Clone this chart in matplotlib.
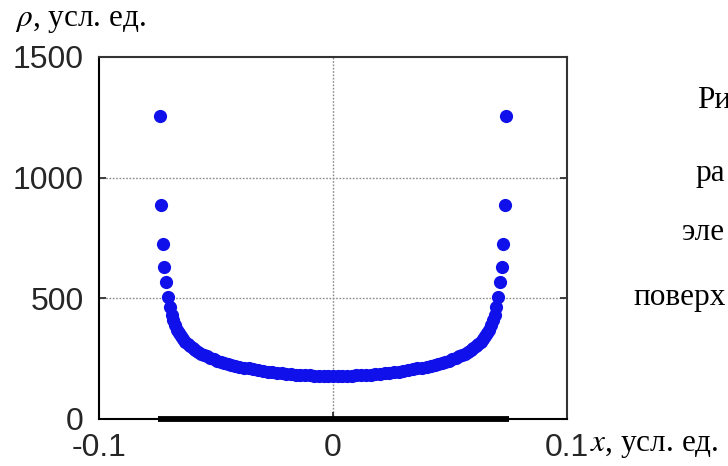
import matplotlib
matplotlib.use("Agg")
import matplotlib.pyplot as plt

plt.rcParams['mathtext.fontset'] = 'stix'

# charge density along the strip, left half and right half
x_left = [-0.0740, -0.0734, -0.0728, -0.0721, -0.0714, -0.0706, -0.0698, -0.0690,
          -0.0682, -0.0674, -0.0666, -0.0658, -0.0650, -0.0641, -0.0631, -0.0621,
          -0.0611, -0.0600, -0.0588, -0.0576, -0.0564, -0.0552, -0.0540, -0.0525,
          -0.0510, -0.0495, -0.0480, -0.0465, -0.0450, -0.0435, -0.0420, -0.0400,
          -0.0380, -0.0360, -0.0340, -0.0320, -0.0300, -0.0280, -0.0260, -0.0240,
          -0.0220, -0.0200, -0.0180, -0.0160, -0.0140, -0.0120, -0.0100, -0.0080,
          -0.0060, -0.0040, -0.0020]
rho_left = [1255, 887, 725, 630, 568, 505, 462, 432,
            408, 388, 370, 355, 342, 331, 320, 310,
            301, 293, 285, 278, 271, 265, 259, 253,
            247, 242, 237, 233, 229, 225, 221, 217,
            213, 209, 205, 202, 199, 196, 193, 191,
            189, 187, 185, 183, 182, 181, 180, 179,
            178, 178, 177]

x_right = [0.0000, 0.0020, 0.0040, 0.0060, 0.0080, 0.0100, 0.0120, 0.0140,
           0.0160, 0.0180, 0.0200, 0.0220, 0.0240, 0.0260, 0.0280, 0.0300,
           0.0320, 0.0340, 0.0360, 0.0380, 0.0400, 0.0420, 0.0435, 0.0450,
           0.0465, 0.0480, 0.0495, 0.0510, 0.0525, 0.0540, 0.0552, 0.0564,
           0.0576, 0.0588, 0.0600, 0.0611, 0.0621, 0.0631, 0.0641, 0.0650,
           0.0658, 0.0666, 0.0674, 0.0682, 0.0690, 0.0698, 0.0706, 0.0714,
           0.0721, 0.0728, 0.0734, 0.0740]
rho_right = [177, 177, 178, 178, 179, 180, 181, 182,
             183, 185, 187, 189, 191, 193, 196, 199,
             202, 205, 209, 213, 217, 221, 225, 229,
             233, 237, 242, 247, 253, 259, 265, 271,
             278, 285, 293, 301, 310, 320, 331, 342,
             355, 370, 388, 408, 432, 462, 505, 568,
             630, 725, 887, 1255]

# the strip itself, drawn on the axis
strip_x = [-0.075, 0.075]
strip_y = [0, 0]

x_ticks = [-0.1, 0, 0.1]
x_tick_labels = ['-0.1', '0', '0.1']
y_ticks = [0, 500, 1000, 1500]
y_tick_labels = ['0', '500', '1000', '1500']

caption_bits = ['Ри', 'ра', 'эле', 'поверх']

fig = plt.figure(figsize=(7.28, 4.66), dpi=100)
ax = fig.add_axes([0.136, 0.101, 0.643, 0.777])

ax.plot(x_left, rho_left, 'o', color='#1010ea', markersize=9.5, markeredgewidth=0)
ax.plot(x_right, rho_right, 'o', color='#1010ea', markersize=9.5, markeredgewidth=0)
ax.plot(strip_x, strip_y, color='black', lw=4.2, clip_on=False, solid_capstyle='butt')

ax.set_xlim(-0.1, 0.1)
ax.set_ylim(0, 1500)
ax.set_xticks(x_ticks)
ax.set_xticklabels(x_tick_labels)
ax.set_yticks(y_ticks)
ax.set_yticklabels(y_tick_labels)

for v in [500, 1000]:
    ax.axhline(v, color='#8a8a8a', lw=1.0, ls=(0, (1.2, 1.2)), zorder=0)
ax.axvline(0, color='#8a8a8a', lw=1.0, ls=(0, (1.2, 1.2)), zorder=0)

ax.tick_params(direction='in', length=5, width=1.2, top=False, right=True,
               labelsize=23, labelcolor='#262626', colors='#222222')
ax.tick_params(axis='x', pad=10)
ax.tick_params(axis='y', pad=11)
for lab in ax.get_xticklabels() + ax.get_yticklabels():
    lab.set_family('Liberation Sans')

for name in ['left', 'bottom']:
    ax.spines[name].set_color('black')
    ax.spines[name].set_linewidth(1.5)
for name in ['top', 'right']:
    ax.spines[name].set_color('#333333')
    ax.spines[name].set_linewidth(1.5)

fig.text(0.02, 0.955, r'$\rho$, усл. ед.', family='Liberation Serif',
         fontsize=22.5, ha='left', va='center', color='black')
fig.text(0.81, 0.043, r'$x$, усл. ед.', family='Liberation Serif',
         fontsize=22.5, ha='left', va='center', color='black')

cap_x = [697, 695, 682, 633]
cap_y = [100, 173, 233, 297]
for txt, cx, cy in zip(caption_bits, cap_x, cap_y):
    fig.text(cx / 728, 1 - cy / 466, txt, family='Liberation Serif',
             fontsize=22.5, ha='left', va='center', color='black')

fig.savefig('out.png', dpi=100)
